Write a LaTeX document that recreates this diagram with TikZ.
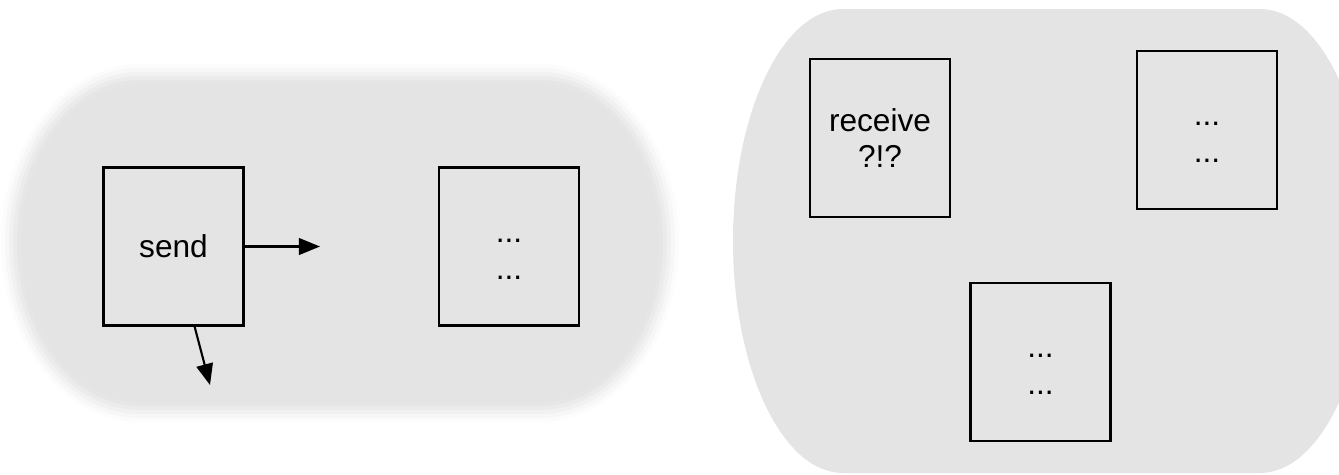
\documentclass[tikz,border=0pt]{standalone}
\usepackage{fontspec}
\setmainfont{Liberation Sans}
\usepackage{tikz}
\usepackage{xcolor}
\usetikzlibrary{arrows.meta}
\definecolor{blobgray}{RGB}{228,228,228}
\tikzstyle{task} = [draw=black, 
line width=1.2pt, 
minimum width=2.8cm, 
minimum height=3.16cm, 
inner sep=0pt, align=center, 
font=\fontsize{18}{21}\selectfont]
\tikzstyle{arrow} = [line width=1.2pt,-{Triangle[length=12pt, width=9.5pt]}]
\newcommand{\dotline}{...\rule[-2pt]{0pt}{20pt}}
% blob: x1, y1, x2, y2, x radius, y radius
\newcommand{\blobpath}[6]{({(#1)+(#5)},#2) -- ({(#3)-(#5)},#2)
  arc[start angle=-90, end angle=0, x radius={#5}, y radius={#6}]
  -- (#3,{(#4)-(#6)})
  arc[start angle=0, end angle=90, x radius={#5}, y radius={#6}]
  -- ({(#1)+(#5)},#4)
  arc[start angle=90, end angle=180, x radius={#5}, y radius={#6}]
  -- (#1,{(#2)+(#6)})
  arc[start angle=180, end angle=270, x radius={#5}, y radius={#6}]
  -- cycle}

\begin{document}
\begin{tikzpicture}[x=0.02cm, y=-0.02cm]
        \useasboundingbox (0,0) rectangle (1339,474);
        \clip (0,0) rectangle (1339,474);

        % Proceso izquierdo (borde difuso)
        \foreach \d/\c in {14/252, 10/247, 6/241, 2/235, -2/230, -6/228}
            \fill[fill={rgb,255:red,\c;green,\c;blue,\c}]
                \blobpath{15-\d}{78-\d}{665+\d}{408+\d}{125+\d}{165+\d};

        % Proceso derecho
        \fill[blobgray] \blobpath{733}{9}{1370}{473}{110}{232};

        % Cajas
        \node[task] (send) at (173.5,246.5) {send};
        \node[task] (other) at (509,246.5) {\dotline\\\dotline};
        \node[task] (receive) at (880,138) {receive\\?!?};
        \node[task] (otherA) at (1207,130) {\dotline\\\dotline};
        \node[task] (otherB) at (1040.5,362) {\dotline\\\dotline};

        % Mensajes salientes
        \coordinate (sendright) at (320,246.5);
        \coordinate (senddown) at (210,385);
        \draw[arrow] (send) -- (sendright);
        \draw[arrow] (send) -- (senddown);

    \end{tikzpicture}
\end{document}
